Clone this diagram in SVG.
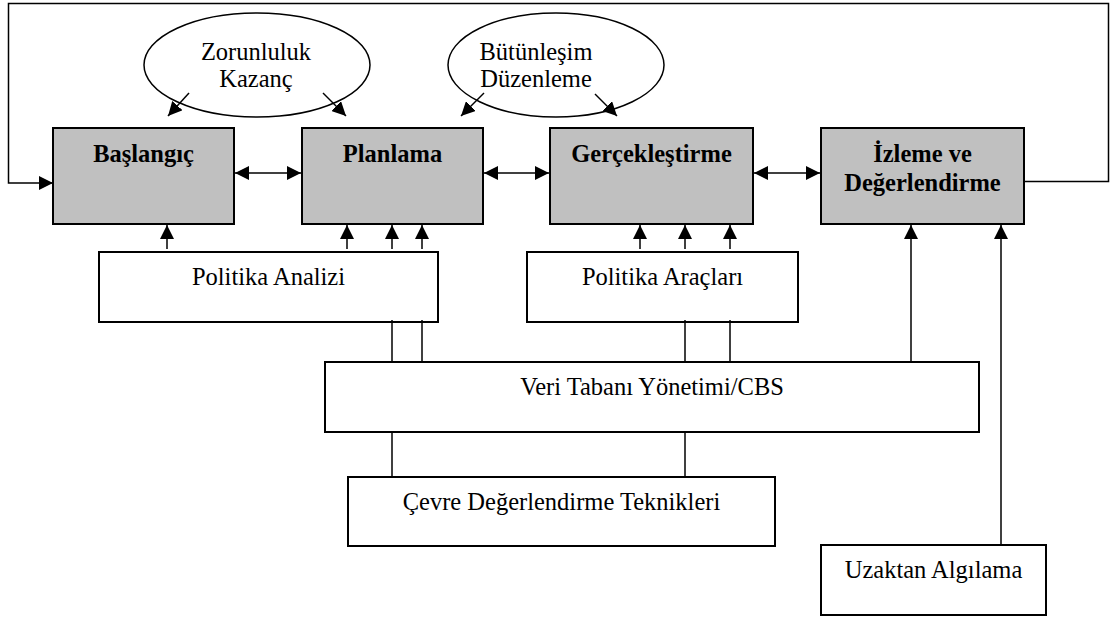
<svg xmlns="http://www.w3.org/2000/svg" width="1110" height="617" viewBox="0 0 1110 617">
<style>
.stage{fill:#c0c0c0;stroke:#000;stroke-width:2}
.box{fill:#fff;stroke:#000;stroke-width:2}
.oval{fill:none;stroke:#000;stroke-width:1.5}
.t{font-family:"Liberation Serif","Times New Roman",serif;font-size:24.5px;fill:#000;text-anchor:middle}
.b{font-weight:bold}
.c{fill:none;stroke:#000;stroke-width:1.5}
</style>
<defs>
<marker id="ah" markerUnits="userSpaceOnUse" markerWidth="14" markerHeight="14" refX="14" refY="7" orient="auto-start-reverse" viewBox="0 0 14 14">
<path d="M0,0 L14,7 L0,14 z" fill="#000"/>
</marker>
</defs>
<rect width="1110" height="617" fill="#fff"/>

<g id="baslangic"><rect class="stage" x="53" y="128" width="181" height="96"/><text class="t b" x="143.5" y="162">Başlangıç</text></g>
<g id="planlama"><rect class="stage" x="302" y="128" width="181" height="96"/><text class="t b" x="392.5" y="162">Planlama</text></g>
<g id="gerceklestirme"><rect class="stage" x="550" y="128" width="203" height="96"/><text class="t b" x="651.5" y="162">Gerçekleştirme</text></g>
<g id="izleme"><rect class="stage" x="821" y="128" width="203" height="96"/><text class="t b" x="922.5" y="162">İzleme ve</text><text class="t b" x="922.5" y="191">Değerlendirme</text></g>

<g id="zorunluluk"><ellipse class="oval" cx="257" cy="65" rx="113" ry="52"/><text class="t" x="256" y="60">Zorunluluk</text><text class="t" x="256" y="87">Kazanç</text></g>
<g id="butunlesim"><ellipse class="oval" cx="556" cy="65" rx="108" ry="52"/><text class="t" x="536" y="60">Bütünleşim</text><text class="t" x="536" y="87">Düzenleme</text></g>

<g id="politika-analizi"><rect class="box" x="99" y="252" width="339" height="70"/><text class="t" x="268.5" y="285">Politika Analizi</text></g>
<g id="politika-araclari"><rect class="box" x="527" y="252" width="271" height="70"/><text class="t" x="662.5" y="285">Politika Araçları</text></g>
<g id="veri-tabani"><rect class="box" x="325" y="362" width="654" height="70"/><text class="t" x="652" y="395">Veri Tabanı Yönetimi/CBS</text></g>
<g id="cevre"><rect class="box" x="348" y="477" width="427" height="69"/><text class="t" x="561.5" y="510">Çevre Değerlendirme Teknikleri</text></g>
<g id="uzaktan"><rect class="box" x="821" y="545" width="225" height="70"/><text class="t" x="933.5" y="578">Uzaktan Algılama</text></g>

<g id="connectors">
<path class="c" d="M1024,181.5 H1108.5 V3.5 H8.5 V183 H53" marker-end="url(#ah)"/>
<line class="c" x1="235" y1="173" x2="301" y2="173" marker-start="url(#ah)" marker-end="url(#ah)"/>
<line class="c" x1="484" y1="173" x2="549" y2="173" marker-start="url(#ah)" marker-end="url(#ah)"/>
<line class="c" x1="754" y1="173" x2="820" y2="173" marker-start="url(#ah)" marker-end="url(#ah)"/>
<line class="c" x1="189" y1="93" x2="168" y2="116" marker-end="url(#ah)"/>
<line class="c" x1="323" y1="93" x2="346" y2="116" marker-end="url(#ah)"/>
<line class="c" x1="484" y1="93" x2="461" y2="116" marker-end="url(#ah)"/>
<line class="c" x1="595" y1="94" x2="617" y2="116" marker-end="url(#ah)"/>
<line class="c" x1="167" y1="249" x2="167" y2="225" marker-end="url(#ah)"/>
<line class="c" x1="347" y1="249" x2="347" y2="225" marker-end="url(#ah)"/>
<line class="c" x1="392" y1="249" x2="392" y2="225" marker-end="url(#ah)"/>
<line class="c" x1="422" y1="249" x2="422" y2="225" marker-end="url(#ah)"/>
<line class="c" x1="640" y1="249" x2="640" y2="225" marker-end="url(#ah)"/>
<line class="c" x1="685" y1="249" x2="685" y2="225" marker-end="url(#ah)"/>
<line class="c" x1="730" y1="249" x2="730" y2="225" marker-end="url(#ah)"/>
<line class="c" x1="911" y1="362" x2="911" y2="225" marker-end="url(#ah)"/>
<line class="c" x1="1001" y1="545" x2="1001" y2="225" marker-end="url(#ah)"/>
<line class="c" x1="392" y1="320" x2="392" y2="362"/>
<line class="c" x1="422" y1="320" x2="422" y2="362"/>
<line class="c" x1="685" y1="320" x2="685" y2="362"/>
<line class="c" x1="730" y1="320" x2="730" y2="362"/>
<line class="c" x1="392" y1="432" x2="392" y2="477"/>
<line class="c" x1="685" y1="432" x2="685" y2="477"/>
</g>
</svg>
